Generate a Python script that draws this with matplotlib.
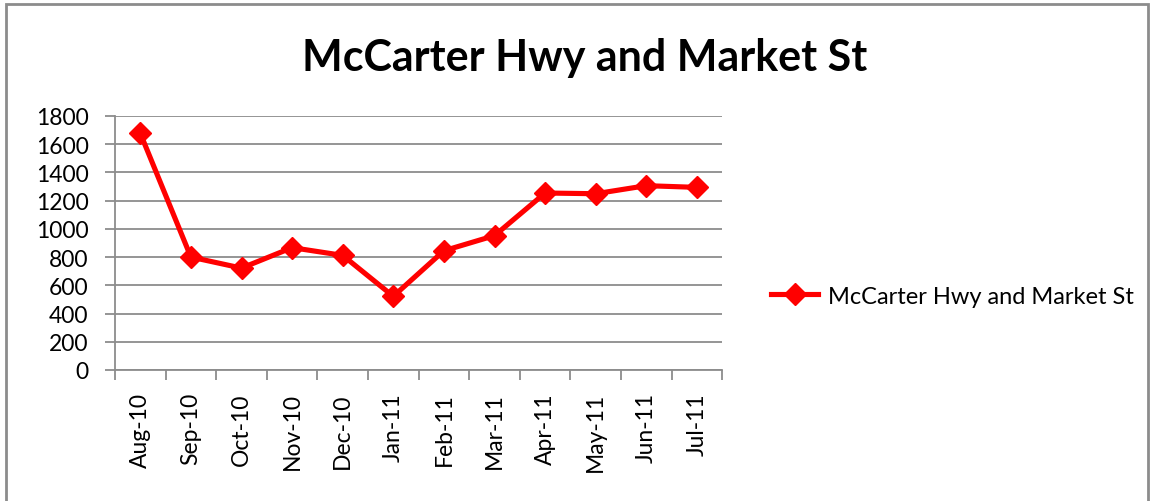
import matplotlib.pyplot as plt
from matplotlib.patches import Rectangle
from matplotlib.ticker import MultipleLocator, FixedLocator

# data
meses = ["Aug-10", "Sep-10", "Oct-10", "Nov-10", "Dec-10", "Jan-11",
         "Feb-11", "Mar-11", "Apr-11", "May-11", "Jun-11", "Jul-11"]
valores = [1677, 800, 722, 867, 812, 522, 845, 952, 1254, 1249, 1306, 1294]
serie = "McCarter Hwy and Market St"

plt.rcParams['font.family'] = ['Lato', 'DejaVu Sans']

fig = plt.figure(figsize=(11.5, 5.02), dpi=100)
ax = fig.add_axes([0.1, 0.261, 0.528, 0.506])

x = list(range(len(meses)))
ax.plot(x, valores, color="#ff0000", linewidth=3.7, marker="D", markersize=11,
        label=serie)

ax.set_xlim(-0.5, len(meses) - 0.5)
ax.set_ylim(0, 1800)
ax.yaxis.set_major_locator(MultipleLocator(200))
ax.grid(axis="y", color="#8c8c8c", linewidth=1.3)
ax.set_axisbelow(True)

ax.set_xticks(x)
ax.set_xticklabels(meses, rotation=90, fontsize=16.5)
ax.xaxis.set_minor_locator(FixedLocator([i - 0.5 for i in range(len(meses) + 1)]))
ax.tick_params(axis="x", which="major", length=0, pad=16)
ax.tick_params(axis="x", which="minor", length=7, width=1.3, color="#8c8c8c")
ax.tick_params(axis="y", labelsize=16.5, length=7, width=1.3, color="#8c8c8c", pad=12)

for lado in ["top", "right"]:
    ax.spines[lado].set_visible(False)
for lado in ["left", "bottom"]:
    ax.spines[lado].set_color("#8c8c8c")
    ax.spines[lado].set_linewidth(1.3)

fig.text(0.508, 0.884, serie, ha="center", va="center", fontsize=31, fontweight="bold")

fig.legend(loc="center left", bbox_to_anchor=(0.652, 0.408), frameon=False,
           fontsize=17, handlelength=2.0, handletextpad=0.4)

fig.patches.append(Rectangle((0.005, -0.01), 0.993, 1.0, transform=fig.transFigure,
                             fill=False, edgecolor="#8c8c8c", linewidth=2))

plt.savefig("out.png", dpi=100)
